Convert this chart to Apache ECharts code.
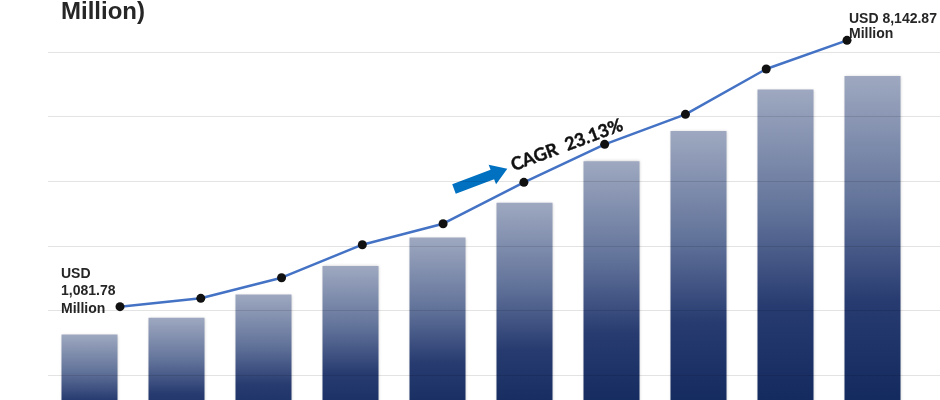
<!DOCTYPE html>
<html>
<head>
<meta charset="utf-8">
<script src="https://cdn.jsdelivr.net/npm/echarts@6/dist/echarts.min.js"></script>
<style>
  html, body { margin: 0; padding: 0; background: #ffffff; }
  #chart { width: 940px; height: 400px; }
</style>
</head>
<body>
<div id="chart"></div>
<script>
// ---- data ----
const categories = ['2024', '2025', '2026', '2027', '2028', '2029', '2030', '2031', '2032', '2033'];
// bar heights in gridline units (gridlines every 1 unit)
const barValues = [1.63, 1.89, 2.25, 2.69, 3.13, 3.67, 4.31, 4.78, 5.42, 5.63];
// market size line, USD Million
const lineValues = [1081.78, 1304, 1850, 2725, 3282, 4379, 5386, 6181, 7382, 8142.87];
const titleText = 'Million)';
const startLabel = 'USD\n1,081.78\nMillion';
const endLabel = 'USD 8,142.87\nMillion';
const cagrText = 'CAGR  23.13%';

const chart = echarts.init(document.getElementById('chart'), null, { renderer: 'canvas' });

const option = {
  animation: false,
  backgroundColor: '#ffffff',
  grid: [
    { left: 48, right: 0, top: 52, bottom: 25, outerBoundsMode: 'none' },
    { left: 46, right: 24, top: 52, height: 388, outerBoundsMode: 'none' },
    { left: 120, right: 93, top: 8, height: 339.5, outerBoundsMode: 'none' }
  ],
  xAxis: [
    { gridIndex: 0, type: 'value', min: 0, max: 1, show: false },
    { gridIndex: 1, type: 'category', data: categories, show: false },
    { gridIndex: 2, type: 'category', data: categories, boundaryGap: false, show: false }
  ],
  yAxis: [
    {
      gridIndex: 0, type: 'value', min: 0, max: 5, interval: 1, z: 5,
      axisLine: { show: false }, axisTick: { show: false }, axisLabel: { show: false },
      splitLine: { show: true, lineStyle: { color: 'rgba(0,0,0,0.11)', width: 1 } }
    },
    { gridIndex: 1, type: 'value', min: 0, max: 6, show: false, splitLine: { show: false } },
    { gridIndex: 2, type: 'value', min: 0, max: 9000, show: false, splitLine: { show: false } }
  ],
  series: [
    {
      type: 'bar',
      xAxisIndex: 1,
      yAxisIndex: 1,
      data: barValues,
      barWidth: 56,
      itemStyle: {
        color: new echarts.graphic.LinearGradient(0, 0, 0, 1, [
          { offset: 0, color: '#9ea8c0' },
          { offset: 0.35, color: '#62739a' },
          { offset: 0.62, color: '#273b70' },
          { offset: 1, color: '#0c2459' }
        ]),
        shadowBlur: 3,
        shadowColor: 'rgba(0,0,0,0.22)'
      }
    },
    {
      type: 'line',
      xAxisIndex: 2,
      yAxisIndex: 2,
      data: lineValues,
      clip: false,
      z: 6,
      symbol: 'circle',
      symbolSize: 9,
      itemStyle: { color: '#111111' },
      lineStyle: { color: '#4472c4', width: 2.5 }
    }
  ],
  graphic: [
    {
      type: 'text', left: 61, top: 0,
      style: { text: titleText, font: 'bold 24px "Liberation Sans", Arial, sans-serif', fill: '#262626' }
    },
    {
      type: 'text', x: 61, y: 265,
      style: {
        text: startLabel, font: 'bold 14px "Liberation Sans", Arial, sans-serif',
        fill: '#262626', lineHeight: 17.5, verticalAlign: 'top', align: 'left'
      }
    },
    {
      type: 'text', x: 849, y: 11,
      style: {
        text: endLabel, font: 'bold 14px "Liberation Sans", Arial, sans-serif',
        fill: '#262626', lineHeight: 15.5, verticalAlign: 'top', align: 'left'
      }
    },
    {
      type: 'text', x: 567, y: 145, rotation: 20.5 * Math.PI / 180,
      style: {
        text: cagrText, font: 'bold 18px Lato, "Open Sans", sans-serif',
        fill: '#111111', align: 'center', verticalAlign: 'middle',
        stroke: '#111111', lineWidth: 0.4
      }
    },
    {
      type: 'polygon', x: 454, y: 189, rotation: 20.7 * Math.PI / 180,
      shape: { points: [[0, -5], [41, -5], [41, -10.5], [57, 0], [41, 10.5], [41, 5], [0, 5]] },
      style: { fill: '#0070c0' }
    }
  ]
};
chart.setOption(option);
</script>
</body>
</html>
